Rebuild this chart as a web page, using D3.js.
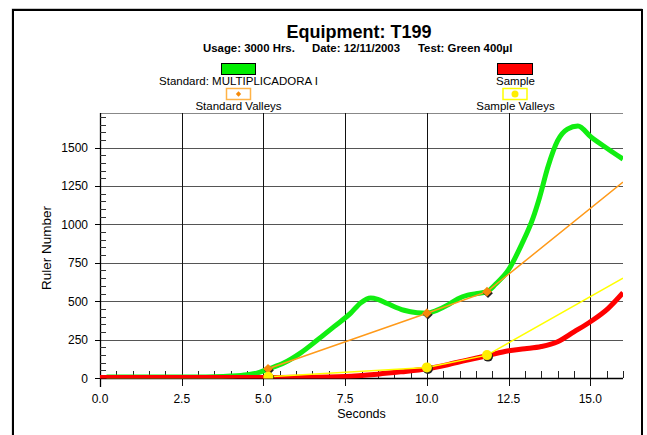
<!DOCTYPE html>
<html><head><meta charset="utf-8">
<script src="https://cdn.jsdelivr.net/npm/d3@7"></script>
<style>body{margin:0;background:#fff}svg{display:block;font-family:"Liberation Sans",Arial,sans-serif}</style>
</head><body><svg id="c" width="647" height="435"></svg>
<script>
// ---- data ----
const title = "Equipment: T199";
const subtitleParts = ["Usage: 3000 Hrs.", "Date: 12/11/2003", "Test: Green 400µl"];
const xTicks = [0, 2.5, 5, 7.5, 10, 12.5, 15];
const yTicks = [0, 250, 500, 750, 1000, 1250, 1500];
const standardX = [0.2,1,2,3,3.5,4,4.5,4.8,5.14,5.62,6.13,6.65,7.15,7.67,7.98,8.28,8.5,8.79,9.3,9.7,10,10.3,10.63,10.94,11.25,11.5,11.84,12.1,12.5,12.9,13.24,13.45,13.7,14,14.3,14.62,15.03,15.54,16];
const standardY = [7,7,6,6,8,13,22,32,58,97,162,247,333,422,490,521,512,485,441,425,422,440,474,515,539,548,562,610,705,870,1037,1177,1372,1545,1620,1640,1567,1491,1425];
const sampleX = [0,2.5,5,5.5,6.13,7.5,8.5,9.2,10,10.6,11.2,11.84,12.5,13,13.5,14,14.5,15,15.54,16];
const sampleY = [3,3,3,4,5,10,25,40,60,85,115,145,177,190,205,236,300,366,452,555];
const standardValleyX = [5.14, 10.0, 11.84];
const standardValleyY = [60, 422, 562];
const standardTrendEnd = [16, 1275];
const sampleValleyX = [5.15, 10.0, 11.84];
const sampleValleyY = [8, 69, 149];
const sampleTrendEnd = [16, 650];

const svg = d3.select("#c");
const W = 647, H = 435;
const m = {l:100, r:623, t:113, b:378};
const x = d3.scaleLinear().domain([0,16]).range([m.l, m.r]);
const y = d3.scaleLinear().domain([0,1725]).range([m.b, m.t]);

// outer frame
svg.append("path").attr("d",`M12,${H+5}V8.5H642V${H+5}`).attr("fill","none").attr("stroke","#c8c8c8").attr("stroke-width",1);
svg.append("path").attr("d",`M13,${H+5}V10H642V${H+5}`).attr("fill","none").attr("stroke","#000").attr("stroke-width",2);

// title
svg.append("text").attr("x",359).attr("y",38).attr("text-anchor","middle").attr("font-size",18).attr("font-weight","bold").text(title);
const subX = [203, 312, 418];
subtitleParts.forEach((s,i)=>svg.append("text").attr("x",subX[i]).attr("y",52).attr("font-size",11.4).attr("font-weight","bold").text(s));

// legend
function legText(t,cx,yy){svg.append("text").attr("x",cx).attr("y",yy).attr("text-anchor","middle").attr("font-size",11.5).text(t);}
svg.append("rect").attr("x",221.5).attr("y",63.5).attr("width",34).attr("height",11).attr("fill","#00ee00").attr("stroke","#000");
legText("Standard: MULTIPLICADORA I",238.5,85);
svg.append("rect").attr("x",226.5).attr("y",88.5).attr("width",24).attr("height",11).attr("fill","#fff").attr("stroke","#ffb347").attr("stroke-width",1.5);
svg.append("path").attr("d",d3.symbol(d3.symbolDiamond2,18)()).attr("transform","translate(238.5,94)").attr("fill","#f58a0a");
legText("Standard Valleys",238.5,110);
svg.append("rect").attr("x",497.5).attr("y",63.5).attr("width",35).attr("height",11).attr("fill","#ff0000").attr("stroke","#000");
legText("Sample",515.5,85);
svg.append("rect").attr("x",503).attr("y",88.5).attr("width",24).attr("height",11).attr("fill","#fff").attr("stroke","#ffff00").attr("stroke-width",1.5);
svg.append("circle").attr("cx",515).attr("cy",94).attr("r",3.5).attr("fill","#ffee00");
legText("Sample Valleys",515.5,110);

// grid
const g = svg.append("g");
yTicks.filter(v=>v>0).forEach(v=>g.append("line").attr("x1",m.l).attr("x2",m.r).attr("y1",Math.round(y(v))+0.5).attr("y2",Math.round(y(v))+0.5).attr("stroke","#555"));
g.append("line").attr("x1",m.l).attr("x2",m.r).attr("y1",m.t+0.5).attr("y2",m.t+0.5).attr("stroke","#888");
xTicks.filter(v=>v>0).forEach(v=>g.append("line").attr("x1",Math.round(x(v))+0.5).attr("x2",Math.round(x(v))+0.5).attr("y1",m.t).attr("y2",m.b+8).attr("stroke","#111"));

// axes lines
g.append("line").attr("x1",m.l+0.5).attr("x2",m.l+0.5).attr("y1",m.t).attr("y2",m.b+9).attr("stroke","#000").attr("stroke-width",1.3);
g.append("line").attr("x1",m.l).attr("x2",m.r).attr("y1",m.b+0.5).attr("y2",m.b+0.5).attr("stroke","#000").attr("stroke-width",1.3);
// minor ticks
d3.range(0,1725,50).forEach(v=>{ if(v%250!==0) g.append("line").attr("x1",m.l).attr("x2",m.l+6).attr("y1",Math.round(y(v))+0.5).attr("y2",Math.round(y(v))+0.5).attr("stroke","#333");});
d3.range(0.5,16.01,0.5).forEach(v=>{ if(Math.abs(v/2.5-Math.round(v/2.5))>1e-6) g.append("line").attr("x1",Math.round(x(v))+0.5).attr("x2",Math.round(x(v))+0.5).attr("y1",m.b-7).attr("y2",m.b).attr("stroke","#222");});
// y tick marks & labels
yTicks.forEach(v=>{
  g.append("line").attr("x1",m.l-5).attr("x2",m.l).attr("y1",Math.round(y(v))+0.5).attr("y2",Math.round(y(v))+0.5).attr("stroke","#000");
  g.append("text").attr("x",88).attr("y",y(v)+4.5).attr("text-anchor","end").attr("font-size",12).text(v);
});
xTicks.forEach(v=>g.append("text").attr("x",x(v)).attr("y",403).attr("text-anchor","middle").attr("font-size",12).text(v.toFixed(1)));
svg.append("text").attr("x",(m.l+m.r)/2).attr("y",418).attr("text-anchor","middle").attr("font-size",12.5).text("Seconds");
svg.append("text").attr("transform","translate(51,248) rotate(-90)").attr("text-anchor","middle").attr("font-size",13.5).text("Ruler Number");

// clip
svg.append("clipPath").attr("id","clip").append("rect").attr("x",m.l).attr("y",m.t-10).attr("width",m.r-m.l).attr("height",m.b-m.t+10.5);
const p = svg.append("g").attr("clip-path","url(#clip)");
const line = d3.line().x(d=>x(d[0])).y(d=>y(d[1])).curve(d3.curveMonotoneX);
const straight = d3.line().x(d=>x(d[0])).y(d=>y(d[1]));
const std = standardX.map((v,i)=>[v,standardY[i]]);
const smp = sampleX.map((v,i)=>[v,sampleY[i]]);
p.append("path").attr("d",line(std)).attr("fill","none").attr("stroke","#11ee11").attr("stroke-width",5).attr("stroke-linejoin","round");
p.append("path").attr("d",line(smp)).attr("fill","none").attr("stroke","#ff0000").attr("stroke-width",5).attr("stroke-linejoin","round");
const sv = standardValleyX.map((v,i)=>[v,standardValleyY[i]]);
const yv = sampleValleyX.map((v,i)=>[v,sampleValleyY[i]]);
p.append("path").attr("d",straight(sv.concat([standardTrendEnd]))).attr("fill","none").attr("stroke","#ff9a1a").attr("stroke-width",1.5);
p.append("path").attr("d",straight(yv.concat([sampleTrendEnd]))).attr("fill","none").attr("stroke","#ffff00").attr("stroke-width",1.5);
// markers
const dia = d3.symbol(d3.symbolDiamond2, 60)();
sv.forEach(d=>{
  p.append("path").attr("d",dia).attr("transform",`translate(${x(d[0])+1},${y(d[1])+1.5})`).attr("fill","#222");
  p.append("path").attr("d",dia).attr("transform",`translate(${x(d[0])},${y(d[1])})`).attr("fill","#f7890c");
});
yv.forEach(d=>{
  p.append("circle").attr("cx",x(d[0])+1).attr("cy",y(d[1])+1.5).attr("r",5).attr("fill","#222");
  p.append("circle").attr("cx",x(d[0])).attr("cy",y(d[1])).attr("r",5).attr("fill","#ffee00");
});
</script></body></html>
